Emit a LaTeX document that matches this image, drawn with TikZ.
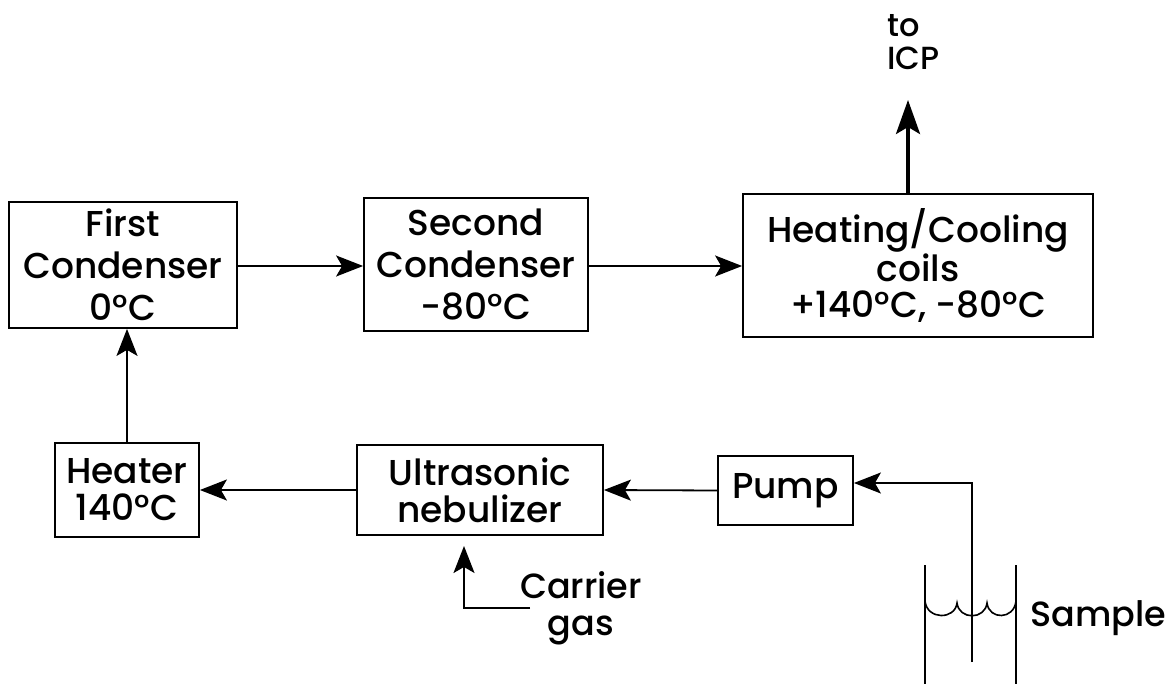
\documentclass[tikz,border=0pt]{standalone}
\usepackage{fontspec}
\setmainfont{Poppins Medium}
\usetikzlibrary{arrows.meta}
\tikzset{
  blk/.style={draw, line width=1.8pt, inner sep=0pt, align=center,
    font=\fontsize{36}{42}\selectfont},
  lbl/.style={inner sep=0pt, font=\fontsize{36}{39}\selectfont},
  flow/.style={line width=1.8pt, -{Stealth[length=27pt,width=21pt,inset=6pt]}},
  bigflow/.style={line width=3.5pt, -{Stealth[length=34pt,width=24pt,inset=7pt]}},
  wall/.style={line width=1.6pt}
}
\begin{document}
\begin{tikzpicture}[x=1pt,y=-1pt]
\useasboundingbox[fill=white] (0,0) rectangle (1174,684);
% boxes
\node[blk, minimum width=228pt, minimum height=126pt] (first) at (123,265) {First\\Condenser\\0°C};
\node[blk, minimum width=224pt, minimum height=133pt] (second) at (476,264.5) {Second\\Condenser\\-80°C};
\node[blk, minimum width=350pt, minimum height=143pt, font=\fontsize{36}{36}\selectfont] (coils) at (918,265.5) {Heating/Cooling\\coils\\+140°C, -80°C};
\node[blk, minimum width=144pt, minimum height=94pt, font=\fontsize{36}{37}\selectfont] (heater) at (127,490) {Heater\\140°C};
\node[blk, minimum width=246pt, minimum height=90pt, font=\fontsize{36}{37}\selectfont] (neb) at (480,490) {Ultrasonic\\nebulizer};
\node[blk, minimum width=135pt, minimum height=69pt] (pump) at (785.5,490.5) {Pump};
% labels
\node[lbl, align=left, anchor=north west, font=\fontsize{32}{33}\selectfont] (icp) at (887,14) {to\\ICP};
\node[lbl, anchor=west, font=\fontsize{35}{39}\selectfont] (sample) at (1030,618) {Sample};
\node[lbl, align=center, font=\fontsize{35}{37}\selectfont] (carrier) at (581,608) {Carrier\\gas};
% coordinates
\coordinate (icptip) at (908,100);
\coordinate (coilstop) at (908,194);
\coordinate (carrtail) at (530,608);
\coordinate (carrbend) at (464,608);
\coordinate (carrtip) at (464,546);
\coordinate (samplebot) at (972,662);
\coordinate (samplebend) at (972,483);
% connectors
\draw[flow] (first.east |- 0,266) -- (second.west |- 0,266);
\draw[flow] (second.east |- 0,266) -- (coils.west |- 0,266);
\draw[bigflow] (coilstop) -- (icptip);
\draw[flow] (heater.north -| 127,0) -- (first.south -| 127,0);
\draw[flow] (neb.west) -- (heater.east);
\draw[flow] (pump.west) -- (neb.east);
\draw[flow] (carrtail) -- (carrbend) -- (carrtip);
\draw[flow] (samplebot) -- (samplebend) -- (pump.east |- samplebend);
% beaker
\draw[wall] (925,565) -- (925,684);
\draw[wall] (1016,565) -- (1016,684);
\draw[wall] (925,601) .. controls (927,620) and (955,620) .. (957,603)
  .. controls (959,620) and (985,620) .. (987,603)
  .. controls (989,620) and (1014,620) .. (1016,601);
\end{tikzpicture}
\end{document}
